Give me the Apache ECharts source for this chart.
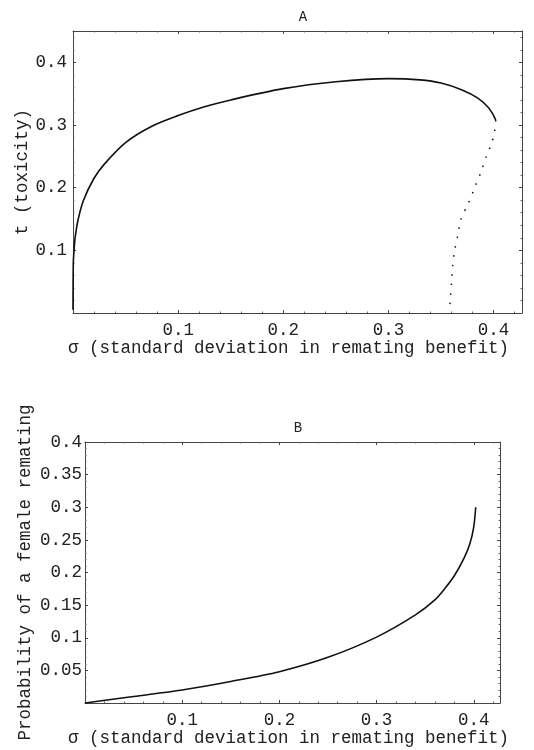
<!DOCTYPE html>
<html><head><meta charset="utf-8">
<script src="https://cdn.jsdelivr.net/npm/echarts@6/dist/echarts.min.js"></script>
<style>html,body{margin:0;padding:0;background:#fff}#c{width:534px;height:750px}</style>
</head><body><div id="c"></div>
<script>
// Panel A: solid branch (sigma, t)
const aSolidX = [0, 0.0003, 0.001, 0.002, 0.005, 0.01, 0.02, 0.03, 0.05, 0.075, 0.1, 0.125, 0.15, 0.2, 0.25, 0.3, 0.33, 0.35, 0.37, 0.385, 0.395, 0.4, 0.402];
const aSolidY = [0.005, 0.08, 0.1, 0.12, 0.15, 0.18, 0.215, 0.238, 0.272, 0.298, 0.315, 0.329, 0.34, 0.358, 0.369, 0.374, 0.372, 0.367, 0.356, 0.343, 0.328, 0.315, 0.308];
// Panel A: dotted branch
const aDotX = [0.402, 0.401, 0.398, 0.393, 0.388, 0.382, 0.376, 0.369, 0.366, 0.363, 0.361, 0.36, 0.359, 0.358];
const aDotY = [0.308, 0.29, 0.27, 0.25, 0.225, 0.2, 0.175, 0.15, 0.125, 0.1, 0.075, 0.05, 0.025, 0.005];
// Panel B: probability of remating
const bX = [0, 0.05, 0.1, 0.15, 0.2, 0.25, 0.3, 0.34, 0.36, 0.37, 0.38, 0.39, 0.396, 0.4, 0.402];
const bY = [0, 0.01, 0.02, 0.033, 0.048, 0.07, 0.101, 0.135, 0.158, 0.175, 0.195, 0.222, 0.244, 0.27, 0.3];
// Tick labels
const xTickLabels = ['0.1', '0.2', '0.3', '0.4'];
const aYTickLabels = ['0.1', '0.2', '0.3', '0.4'];
const bYTickLabels = ['0.05', '0.1', '0.15', '0.2', '0.25', '0.3', '0.35', '0.4'];
const xTitle = 'σ (standard deviation in remating benefit)';

const zip = (xs, ys) => xs.map((x, i) => [x, ys[i]]);
const fmt = list => v => { const s = String(parseFloat(v.toFixed(3))); return list.includes(s) ? s : ''; };
const FONT = '"Liberation Mono", "DejaVu Sans Mono", monospace';
const frame = { show: true, onZero: false, lineStyle: { color: '#444', width: 1 } };
const tick = { show: true, inside: true, length: 3, lineStyle: { color: '#444' } };
const minor = { show: true, splitNumber: 5, length: 1.5, lineStyle: { color: '#666' } };

function xAxes(gi, labels, margin, gap, shift) {
  return [
    { type: 'value', gridIndex: gi, position: 'bottom', min: 0, max: 0.427, interval: 0.1,
      axisLine: frame, axisTick: tick, minorTick: minor, splitLine: { show: false },
      axisLabel: { formatter: fmt(labels), color: '#222', fontFamily: FONT, fontSize: 17.5, margin: margin, showMaxLabel: false },
      name: xTitle, nameLocation: 'middle', nameGap: gap, nameMoveOverlap: false,
      nameTextStyle: { color: '#222', fontFamily: FONT, fontSize: 17.5, padding: [0, shift, 0, 0] } },
    { type: 'value', gridIndex: gi, position: 'top', min: 0, max: 0.427, interval: 0.1,
      axisLine: frame, axisTick: tick, minorTick: minor, splitLine: { show: false },
      axisLabel: { show: false } }
  ];
}
function yAxes(gi, max, interval, labels, name, gap, margin) {
  return [
    { type: 'value', gridIndex: gi, position: 'left', min: 0, max: max, interval: interval,
      axisLine: frame, axisTick: tick, minorTick: minor, splitLine: { show: false },
      axisLabel: { formatter: fmt(labels), color: '#222', fontFamily: FONT, fontSize: 17.5, margin: margin, showMaxLabel: true },
      name: name, nameLocation: 'middle', nameGap: gap, nameMoveOverlap: false,
      nameTextStyle: { color: '#222', fontFamily: FONT, fontSize: 17.5 } },
    { type: 'value', gridIndex: gi, position: 'right', min: 0, max: max, interval: interval,
      axisLine: frame, axisTick: tick, minorTick: minor, splitLine: { show: false },
      axisLabel: { show: false } }
  ];
}

const chart = echarts.init(document.getElementById('c'), null, { renderer: 'canvas' });
chart.setOption({
  animation: false,
  backgroundColor: '#fff',
  title: [
    { text: 'A', left: 298, top: 5, textAlign: 'center', textStyle: { fontFamily: FONT, fontSize: 14, fontWeight: 'normal', color: '#222' } },
    { text: 'B', left: 293, top: 416, textAlign: 'center', textStyle: { fontFamily: FONT, fontSize: 14, fontWeight: 'normal', color: '#222' } }
  ],
  grid: [
    { left: 73, top: 31, width: 449, height: 282 },
    { left: 85, top: 442, width: 415, height: 261 }
  ],
  xAxis: [...xAxes(0, xTickLabels, 8, 26, 18), ...xAxes(1, xTickLabels, 8, 26, 8)],
  yAxis: [...yAxes(0, 0.45, 0.1, aYTickLabels, 't (toxicity)', 42, 6),
          ...yAxes(1, 0.4, 0.05, bYTickLabels, 'Probability of a female remating', 51, 3)],
  series: [
    { type: 'line', xAxisIndex: 0, yAxisIndex: 0, data: zip(aSolidX, aSolidY), showSymbol: false, smooth: 0.3,
      lineStyle: { color: '#111', width: 1.6 } },
    { type: 'line', xAxisIndex: 0, yAxisIndex: 0, data: zip(aDotX, aDotY), showSymbol: false, smooth: 0.3,
      lineStyle: { color: '#111', width: 1.5, type: [1.5, 8] } },
    { type: 'line', xAxisIndex: 2, yAxisIndex: 2, data: zip(bX, bY), showSymbol: false, smooth: 0.3,
      lineStyle: { color: '#111', width: 1.6 } }
  ]
});
</script></body></html>
